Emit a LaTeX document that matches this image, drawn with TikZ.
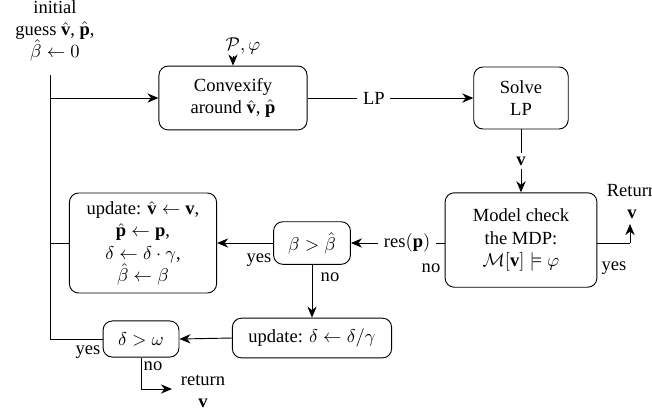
\documentclass[tikz,border=0pt]{standalone}
\usepackage{amsmath,amssymb}
\usepackage{fontspec}
\setmainfont{Liberation Serif}
\usetikzlibrary{arrows.meta}
\tikzset{
  box/.style={draw, rounded corners=5pt, align=center, inner sep=2pt, line width=0.5pt},
  lbl/.style={align=center, inner sep=1pt},
  arr/.style={-{Stealth[length=6pt,width=5pt]}, line width=0.5pt},
  ln/.style={line width=0.5pt},
}
\begin{document}
\begin{tikzpicture}[x=0.54pt,y=-0.54pt]
\useasboundingbox (0,0) rectangle (652,412);
\node[lbl] (init) at (55,31) {initial\\guess $\hat{\mathbf v}$, $\hat{\mathbf p}$,\\$\hat\beta\leftarrow 0$};
\coordinate (vt) at (50,75);
\coordinate (vm) at (50,98);
\coordinate (vu) at (50,243);
\coordinate (vb) at (50,339);
\node[lbl] (P) at (243,46) {$\mathcal P,\varphi$};
\coordinate (pa) at (233,56);
\node[box, minimum width=80pt, minimum height=34.5pt] (conv) at (233,98) {Convexify\\around $\hat{\mathbf v}$, $\hat{\mathbf p}$};
\node[box, minimum width=51pt, minimum height=33.5pt] (solve) at (521,98) {Solve\\LP};
\node[box, minimum width=82pt, minimum height=51pt] (mc) at (521,240) {Model check\\the MDP:\\$\mathcal M[\mathbf v]\models\varphi$};
\node[box, minimum width=41.5pt, minimum height=23pt] (beta) at (312,243) {$\beta>\hat\beta$};
\node[box, minimum width=79.5pt, minimum height=54pt] (upd) at (143,243) {update: $\hat{\mathbf v}\leftarrow\mathbf v$,\\$\hat{\mathbf p}\leftarrow\mathbf p$,\\$\delta\leftarrow\delta\cdot\gamma$,\\$\hat\beta\leftarrow\beta$};
\node[box, minimum width=86pt, minimum height=21.5pt] (updd) at (312,338) {update: $\delta\leftarrow\delta/\gamma$};
\node[box, minimum width=41pt, minimum height=19.5pt] (dw) at (141,339) {$\delta>\omega$};
\coordinate (rc) at (630,243);
\coordinate (rt) at (630,224);
\node[lbl, anchor=south] (ret) at (632,221) {Return\\$\mathbf v$};
\coordinate (dn) at (141,389);
\coordinate (dr) at (172,389);
\node[lbl] (ret2) at (203,391) {return\\$\mathbf v$};
% connectors
\draw[ln] (vt) -- (vb);
\draw[arr] (vm) -- (conv.west);
\draw[arr] (pa) -- (conv.north);
\draw[arr] (conv.east) -- node[pos=0.4, fill=white, inner sep=3pt] {LP} (solve.west);
\draw[arr] (solve.south) -- node[fill=white, inner sep=2pt] {$\mathbf v$} (mc.north);
\draw[ln] (mc.east |- rc) -- (rc);
\draw[arr] (rc) -- (rt);
\node[lbl] (yes1) at (614,268) {yes};
\draw[arr] (mc.west |- beta.east) -- node[pos=0.4, fill=white, inner sep=3pt] {res$(\mathbf p)$} (beta.east);
\node[lbl] (no1) at (431,268) {no};
\draw[arr] (beta.west) -- (upd.east);
\node[lbl] (yes2) at (259,260) {yes};
\draw[ln] (upd.west) -- (vu);
\draw[arr] (beta.south) -- (updd.north);
\node[lbl] (no2) at (330,277) {no};
\draw[arr] (updd.west) -- (dw.east);
\draw[ln] (dw.west) -- (vb);
\node[lbl] (yes3) at (88,352) {yes};
\draw[ln] (dw.south) -- (dn);
\draw[arr] (dn) -- (dr);
\node[lbl] (no3) at (153,366) {no};
\end{tikzpicture}
\end{document}
